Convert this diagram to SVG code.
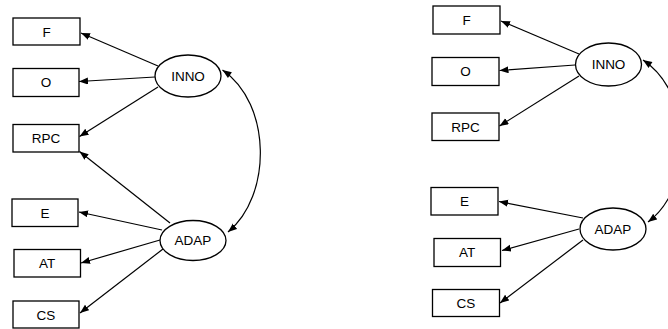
<svg xmlns="http://www.w3.org/2000/svg" width="668" height="329" viewBox="0 0 668 329">
  <style>
    .box { fill: #fff; stroke: #000; stroke-width: 1.3; }
    .lat { fill: #fff; stroke: #000; stroke-width: 1.3; }
    .lbl { font-family: "Liberation Sans", Arial, sans-serif; font-size: 13.5px; fill: #000; text-anchor: middle; }
    .edge { fill: none; stroke: #000; stroke-width: 1.2; marker-end: url(#arr); }
    .cov { fill: none; stroke: #000; stroke-width: 1.2; marker-start: url(#arrS); marker-end: url(#arr); }
  </style>
  <defs>
    <marker id="arr" markerUnits="userSpaceOnUse" markerWidth="10" markerHeight="8" refX="9" refY="3.5" orient="auto">
      <path d="M0,0 L9,3.5 L0,7 Z" fill="#000"/>
    </marker>
    <marker id="arrS" markerUnits="userSpaceOnUse" markerWidth="10" markerHeight="8" refX="0" refY="3.5" orient="auto">
      <path d="M9,0 L0,3.5 L9,7 Z" fill="#000"/>
    </marker>
  </defs>
  <rect width="668" height="329" fill="#fff"/>

  <!-- connectors -->
  <g id="connectors">
    <!-- left model -->
    <line class="edge" x1="158" y1="66" x2="81" y2="33"/>
    <line class="edge" x1="155" y1="77" x2="79" y2="81.5"/>
    <line class="edge" x1="158" y1="87" x2="79.5" y2="136.5"/>
    <line class="edge" x1="170" y1="223" x2="79.5" y2="151.5"/>
    <line class="edge" x1="162" y1="230" x2="79" y2="212"/>
    <line class="edge" x1="160" y1="240" x2="81" y2="263"/>
    <line class="edge" x1="163" y1="249" x2="80" y2="313"/>
    <path class="cov" d="M222.5,70 C272,104 272,196 228,232"/>
    <!-- right model -->
    <line class="edge" x1="579" y1="54" x2="501" y2="21"/>
    <line class="edge" x1="575" y1="65" x2="499.5" y2="70.5"/>
    <line class="edge" x1="579" y1="76" x2="499.5" y2="126"/>
    <line class="edge" x1="583" y1="218" x2="499" y2="201.5"/>
    <line class="edge" x1="579" y1="229" x2="502" y2="250.5"/>
    <line class="edge" x1="583" y1="240" x2="500" y2="303"/>
    <path class="cov" d="M643,60 C694,94 694,188 648,222"/>
  </g>

  <!-- left model nodes -->
  <g id="L-F"><rect class="box" x="13" y="18" width="67" height="27"/><text class="lbl" x="46.5" y="36.5">F</text></g>
  <g id="L-O"><rect class="box" x="13" y="68.5" width="66" height="28"/><text class="lbl" x="46" y="87">O</text></g>
  <g id="L-RPC"><rect class="box" x="13" y="124.5" width="66" height="27.5"/><text class="lbl" x="46" y="143">RPC</text></g>
  <g id="L-E"><rect class="box" x="12" y="199" width="66" height="27.5"/><text class="lbl" x="45" y="217.5">E</text></g>
  <g id="L-AT"><rect class="box" x="14" y="249.5" width="66.5" height="27.5"/><text class="lbl" x="47.2" y="268">AT</text></g>
  <g id="L-CS"><rect class="box" x="13" y="301" width="66" height="27"/><text class="lbl" x="46" y="319.5">CS</text></g>
  <g id="L-INNO"><ellipse class="lat" cx="188" cy="76" rx="33" ry="21"/><text class="lbl" x="188" y="80.8">INNO</text></g>
  <g id="L-ADAP"><ellipse class="lat" cx="193" cy="240.5" rx="33" ry="20"/><text class="lbl" x="193" y="245.3">ADAP</text></g>

  <!-- right model nodes -->
  <g id="R-F"><rect class="box" x="433" y="6" width="67" height="28"/><text class="lbl" x="466.5" y="24.8">F</text></g>
  <g id="R-O"><rect class="box" x="432" y="57.5" width="67" height="28"/><text class="lbl" x="465.5" y="76.3">O</text></g>
  <g id="R-RPC"><rect class="box" x="432" y="113" width="67" height="27.5"/><text class="lbl" x="465.5" y="131.6">RPC</text></g>
  <g id="R-E"><rect class="box" x="431" y="187.5" width="67" height="27.5"/><text class="lbl" x="464.5" y="206">E</text></g>
  <g id="R-AT"><rect class="box" x="434" y="238.5" width="66.5" height="28"/><text class="lbl" x="467.2" y="257.3">AT</text></g>
  <g id="R-CS"><rect class="box" x="432.5" y="289.5" width="67" height="27"/><text class="lbl" x="466" y="307.8">CS</text></g>
  <g id="R-INNO"><ellipse class="lat" cx="608.5" cy="64.5" rx="33" ry="21.5"/><text class="lbl" x="608.5" y="69.3">INNO</text></g>
  <g id="R-ADAP"><ellipse class="lat" cx="613" cy="229" rx="33" ry="21"/><text class="lbl" x="613" y="233.8">ADAP</text></g>
</svg>
